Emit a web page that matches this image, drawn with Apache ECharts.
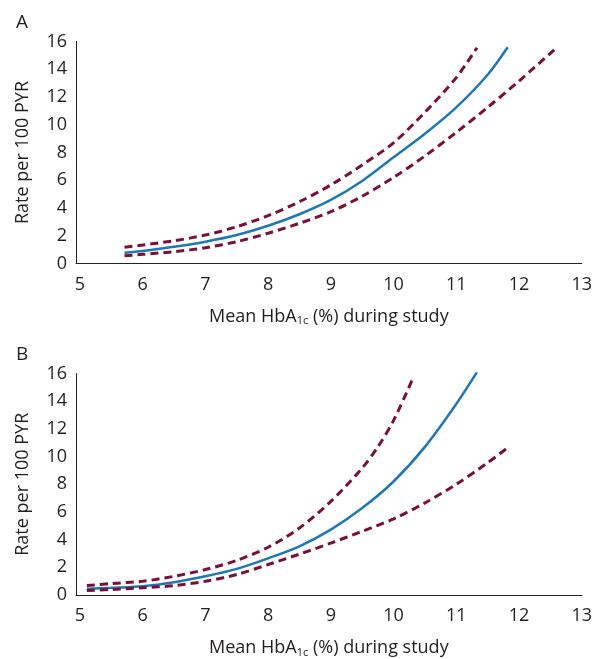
<!DOCTYPE html>
<html>
<head>
<meta charset="utf-8">
<script src="https://cdn.jsdelivr.net/npm/echarts@6/dist/echarts.min.js"></script>
<style>
  html, body { margin: 0; padding: 0; background: #fff; }
  #chart { width: 595px; height: 659px; }
</style>
</head>
<body>
<div id="chart"></div>
<script>
// x tick labels (HbA1c %)
const xTicks = [5, 6, 7, 8, 9, 10, 11, 12, 13];

// panel A
const fitAX = [5.71, 6, 6.5, 7, 7.5, 8, 8.5, 9, 9.5, 10, 10.5, 11, 11.5, 11.82];
const fitAY = [0.78, 0.9, 1.2, 1.57, 2.05, 2.72, 3.55, 4.58, 5.95, 7.65, 9.35, 11.25, 13.6, 15.58];
const upperAX = [5.71, 6, 6.5, 7, 7.5, 8, 8.5, 9, 9.5, 10, 10.5, 11, 11.33];
const upperAY = [1.17, 1.33, 1.64, 2.05, 2.65, 3.45, 4.45, 5.66, 7.1, 8.7, 10.9, 13.4, 15.55];
const lowerAX = [5.71, 6, 6.5, 7, 7.5, 8, 8.5, 9, 9.5, 10, 10.5, 11, 11.5, 12, 12.5, 12.6];
const lowerAY = [0.56, 0.66, 0.85, 1.14, 1.57, 2.18, 2.9, 3.73, 4.85, 6.2, 7.75, 9.45, 11.25, 13.15, 15.15, 15.55];

// panel B
const fitBX = [5.11, 5.5, 6, 6.5, 7, 7.5, 8, 8.5, 9, 9.5, 10, 10.5, 11, 11.33];
const fitBY = [0.45, 0.52, 0.63, 0.92, 1.35, 1.89, 2.65, 3.52, 4.72, 6.28, 8.2, 10.7, 13.8, 16.1];
const upperBX = [5.11, 5.5, 6, 6.5, 7, 7.5, 8, 8.5, 9, 9.5, 9.75, 10, 10.32];
const upperBY = [0.68, 0.83, 0.99, 1.35, 1.84, 2.5, 3.45, 4.84, 6.76, 9.17, 10.7, 12.6, 15.77];
const lowerBX = [5.11, 5.5, 6, 6.5, 7, 7.5, 8, 8.5, 9, 9.5, 10, 10.5, 11, 11.5, 11.81];
const lowerBY = [0.32, 0.4, 0.52, 0.68, 0.99, 1.48, 2.2, 2.95, 3.75, 4.6, 5.5, 6.65, 8.0, 9.55, 10.61];

const FONT = 'Open Sans';
const TEXT = '#231f20';
const BLUE = '#1f78b4';
const RED = '#7a1038';

function pts(xs, ys) {
  return xs.map((x, i) => [x, ys[i]]);
}

function xAxisCfg(idx) {
  return {
    type: 'value', gridIndex: idx, min: 4.937, max: 13,
    name: 'Mean HbA{sub|1c} (%) during study',
    nameLocation: 'middle', nameGap: 43,
    nameTextStyle: {
      color: TEXT, fontFamily: FONT, fontSize: 18,
      rich: { sub: { fontSize: 11, fontFamily: FONT, color: TEXT, verticalAlign: 'bottom', padding: [9, 0, 0, 0] } }
    },
    axisLine: { show: true, lineStyle: { color: '#222', width: 1 } },
    axisTick: { show: false },
    splitLine: { show: false },
    axisLabel: { customValues: xTicks, color: TEXT, fontFamily: FONT, fontSize: 18, margin: 12 }
  };
}

function yAxisCfg(idx) {
  return {
    type: 'value', gridIndex: idx, min: 0, max: 16, interval: 2,
    name: 'Rate per 100 PYR',
    nameLocation: 'middle', nameGap: 44,
    nameTextStyle: { color: TEXT, fontFamily: FONT, fontSize: 18 },
    axisLine: { show: true, lineStyle: { color: '#222', width: 1 } },
    axisTick: { show: false },
    splitLine: { show: false },
    axisLabel: { color: TEXT, fontFamily: FONT, fontSize: 18, margin: 9 }
  };
}

function line(idx, xs, ys, dashed) {
  return {
    type: 'line', xAxisIndex: idx, yAxisIndex: idx,
    data: pts(xs, ys), smooth: 0.3, symbol: 'none',
    lineStyle: dashed
      ? { color: RED, width: 3, type: [8, 5] }
      : { color: BLUE, width: 2.5 },
    z: dashed ? 3 : 2
  };
}

const chart = echarts.init(document.getElementById('chart'));
chart.setOption({
  animation: false,
  backgroundColor: '#fff',
  textStyle: { fontFamily: FONT },
  grid: [
    { left: 76, top: 41.5, width: 513, height: 222 },
    { left: 76, top: 373.5, width: 513, height: 222 }
  ],
  xAxis: [xAxisCfg(0), xAxisCfg(1)],
  yAxis: [yAxisCfg(0), yAxisCfg(1)],
  graphic: [
    { type: 'text', left: 16, top: 13, style: { text: 'A', fill: TEXT, font: '19px "Open Sans"' } },
    { type: 'text', left: 16, top: 345, style: { text: 'B', fill: TEXT, font: '19px "Open Sans"' } }
  ],
  series: [
    line(0, fitAX, fitAY, false),
    line(0, upperAX, upperAY, true),
    line(0, lowerAX, lowerAY, true),
    line(1, fitBX, fitBY, false),
    line(1, upperBX, upperBY, true),
    line(1, lowerBX, lowerBY, true)
  ]
});
</script>
</body>
</html>
